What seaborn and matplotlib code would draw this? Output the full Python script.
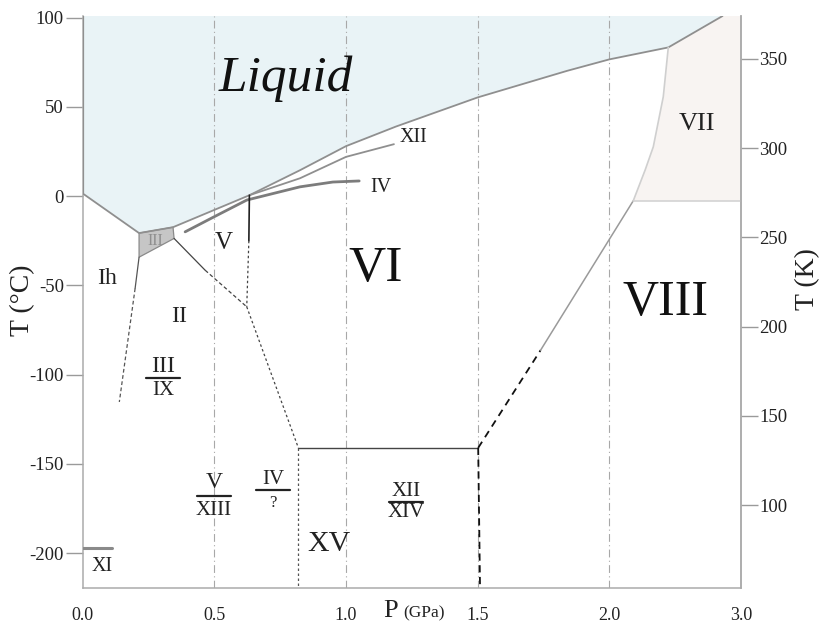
import numpy as np
import pandas as pd
import matplotlib
matplotlib.use("Agg")
import matplotlib.pyplot as plt
import seaborn as sns

# ---------------- data (P in GPa, T in °C) ----------------
melt_P = [0.0, 0.214, 0.343, 0.633, 0.825, 1.0, 1.19, 1.5, 1.84, 2.0, 2.224, 2.43]
melt_T = [1.5, -20.7, -17.4, 0.5, 14.5, 28.0, 39.0, 55.3, 70.2, 76.6, 83.3, 100.9]

xii_P = [0.633, 0.825, 1.0, 1.182]
xii_T = [0.5, 10.0, 22.0, 29.1]

iv_P = [0.389, 0.5, 0.623, 0.825, 0.95, 1.05]
iv_T = [-20.0, -11.5, -2.2, 5.2, 7.9, 8.5]

iii_P = [0.214, 0.343, 0.347, 0.214]
iii_T = [-20.7, -17.4, -23.7, -34.2]

ih_ii_solid_P = [0.214, 0.199]
ih_ii_solid_T = [-34.2, -51.7]
ih_ii_dash_P = [0.199, 0.139]
ih_ii_dash_T = [-51.7, -115.3]

ii_v_solid_P = [0.347, 0.465]
ii_v_solid_T = [-23.7, -41.5]
ii_v_dash_P = [0.465, 0.623]
ii_v_dash_T = [-41.5, -62.0]

v_vi_solid_P = [0.633, 0.631]
v_vi_solid_T = [0.5, -25.0]
v_vi_dash_P = [0.631, 0.623]
v_vi_dash_T = [-25.0, -62.0]

ii_vi_P = [0.623, 0.819]
ii_vi_T = [-62.0, -141.0]

xv_top_P = [0.819, 1.502]
xv_top_T = [-141.0, -141.0]

xv_left_P = [0.819, 0.819]
xv_left_T = [-141.0, -219.5]

xv_right_P = [1.502, 1.509]
xv_right_T = [-141.0, -219.5]

vi_viii_dash_P = [1.502, 1.739]
vi_viii_dash_T = [-141.0, -86.3]
vi_viii_solid_P = [1.739, 2.091]
vi_viii_solid_T = [-86.3, -2.6]

vii_viii_P = [2.091, 2.5]
vii_viii_T = [-2.6, -2.6]

vii_vi_P = [2.091, 2.136, 2.167, 2.205, 2.224]
vii_vi_T = [-2.6, 14.6, 27.6, 55.7, 83.3]

xi_P = [0.0, 0.11]
xi_T = [-197.0, -197.0]

grid_P = [0.5, 1.0, 1.5, 2.0]
xtick_vals = [0.0, 0.5, 1.0, 1.5, 2.0, 2.5]
xtick_labels = ["0.0", "0.5", "1.0", "1.5", "2.0", "3.0"]
ytick_vals = [100, 50, 0, -50, -100, -150, -200]
ytick_labels = ["100", "50", "0", "-50", "-100", "-150", "-200"]
ktick_vals = [100, 150, 200, 250, 300, 350]

# simple labels: text, P, T, size, style, color
labels = [
    ("Liquid", 0.77, 66, 37, "italic", "#111111"),
    ("VI", 1.111, -40.4, 37, "normal", "#111111"),
    ("VIII", 2.215, -60, 36, "normal", "#111111"),
    ("VII", 2.333, 40.4, 19, "normal", "#222222"),
    ("XII", 1.255, 33, 14.5, "normal", "#222222"),
    ("IV", 1.131, 5, 14.5, "normal", "#222222"),
    ("V", 0.537, -26.4, 18, "normal", "#222222"),
    ("III", 0.275, -25.3, 11.5, "normal", "#8f8f8f"),
    ("Ih", 0.092, -46, 17, "normal", "#222222"),
    ("II", 0.366, -67.5, 17, "normal", "#222222"),
    ("XV", 0.934, -195, 21.5, "normal", "#222222"),
    ("XI", 0.075, -207.4, 14.5, "normal", "#222222"),
]

# fraction labels: numerator, denominator, P_center, T_num, T_den, T_bar, num size, den size
fractions = [
    ("III", "IX", 0.305, -95.3, -108.7, -102.0, 17, 15),
    ("V", "XIII", 0.499, -160.3, -176.0, -168.0, 17, 15),
    ("IV", "?", 0.722, -159.0, -171.8, -164.4, 15, 12),
    ("XII", "XIV", 1.228, -165.6, -177.0, -171.3, 15, 15),
]
bar_half = 0.064

# ---------------- plotting ----------------
sns.set_theme(style="white")
plt.rcParams['font.family'] = ['Liberation Serif', 'DejaVu Serif']

fig = plt.figure(figsize=(8.19, 6.23), dpi=100)
ax = fig.add_axes([0.101, 0.0562, 0.8037, 0.9181])

XMIN, XMAX = 0.0, 2.5
YMIN, YMAX = -219.5, 100.9

# liquid fill
liq_P = melt_P + [0.0]
liq_T = melt_T + [YMAX]
ax.fill(liq_P, liq_T, color="#e9f3f6", lw=0, zorder=0)

# VII fill
vii_fill_P = vii_vi_P + [2.43, 2.5, 2.5]
vii_fill_T = vii_vi_T + [YMAX, YMAX, -2.6]
ax.fill(vii_fill_P, vii_fill_T, color="#f8f4f2", lw=0, zorder=0)

# III fill
ax.fill(iii_P, iii_T, color="#c6c6c6", ec="#8a8a8a", lw=0.9, zorder=2)

# grid lines
for g in grid_P:
    ax.axvline(g, color="#a8a8a8", lw=0.8, ls=(0, (7, 3, 1, 3)), zorder=1)

def seg(P, T, color, lw, ls="-", z=3):
    df = pd.DataFrame({"P": P, "T": T})
    sns.lineplot(data=df, x="P", y="T", ax=ax, sort=False, estimator=None,
                 color=color, lw=lw, linestyle=ls, zorder=z)

seg(melt_P, melt_T, "#8f8f8f", 1.3)
seg([0.0, 0.0], [melt_T[0], YMAX], "#8f8f8f", 1.6)
seg(xii_P, xii_T, "#8f8f8f", 1.3)
seg(iv_P, iv_T, "#7c7c7c", 2.0)
seg(ih_ii_solid_P, ih_ii_solid_T, "#555555", 0.9)
seg(ih_ii_dash_P, ih_ii_dash_T, "#555555", 0.9, (0, (3, 2)))
seg(ii_v_solid_P, ii_v_solid_T, "#444444", 0.9)
seg(ii_v_dash_P, ii_v_dash_T, "#444444", 0.9, (0, (3, 2)))
seg(v_vi_solid_P, v_vi_solid_T, "#222222", 1.2)
seg(v_vi_dash_P, v_vi_dash_T, "#444444", 0.9, (0, (2, 2)))
seg(ii_vi_P, ii_vi_T, "#444444", 0.9, (0, (2, 2)))
seg(xv_top_P, xv_top_T, "#444444", 1.0)
seg(xv_left_P, xv_left_T, "#555555", 0.9, (0, (2, 2)))
seg(xv_right_P, xv_right_T, "#111111", 1.3, (0, (4, 2.5)))
seg(vi_viii_dash_P, vi_viii_dash_T, "#111111", 1.3, (0, (4, 3)))
seg(vi_viii_solid_P, vi_viii_solid_T, "#9a9a9a", 1.1)
seg(vii_viii_P, vii_viii_T, "#d0d0d0", 1.1)
seg(vii_vi_P, vii_vi_T, "#cfcfcf", 1.2)
seg(xi_P, xi_T, "#8a8a8a", 2.2)

for txt, p, t, size, style, col in labels:
    ax.text(p, t, txt, ha="center", va="center", fontsize=size, style=style,
            color=col, zorder=5)

for num, den, p, tn, td, tb, sn, sd in fractions:
    ax.text(p, tn, num, ha="center", va="center", fontsize=sn, color="#222222", zorder=5)
    ax.text(p, td, den, ha="center", va="center", fontsize=sd, color="#222222", zorder=5)
    seg([p - bar_half, p + bar_half], [tb, tb], "#222222", 1.6)

ax.set_xlim(XMIN, XMAX)
ax.set_ylim(YMIN, YMAX)
ax.set_xlabel("")
ax.set_ylabel("T (°C)", fontsize=20, color="#222222")
ax.yaxis.set_label_coords(-0.073, 0.503)

ax.set_xticks(xtick_vals)
ax.set_xticklabels(xtick_labels, fontsize=13, color="#222222")
ax.set_yticks(ytick_vals)
ax.set_yticklabels(ytick_labels, fontsize=13.5, color="#222222")
ax.tick_params(axis="x", length=0, pad=14)
ax.tick_params(axis="y", direction="out", length=12.5, width=1, color="#9a9a9a", pad=1, left=True)

for s in ["left", "bottom", "right"]:
    ax.spines[s].set_color("#ababab")
    ax.spines[s].set_linewidth(1.1)
ax.spines["top"].set_visible(False)

ax2 = ax.twinx()
ax2.set_ylim(YMIN + 273.15, YMAX + 273.15)
ax2.set_yticks(ktick_vals)
ax2.set_yticklabels([str(v) for v in ktick_vals], fontsize=13.5, color="#222222")
ax2.tick_params(axis="y", direction="out", length=12, width=1, color="#9a9a9a", pad=1, right=True)
ax2.set_ylabel("T (K)", fontsize=20, color="#222222", rotation=90)
ax2.yaxis.set_label_coords(1.082, 0.54)
for s in ["left", "bottom", "top"]:
    ax2.spines[s].set_visible(False)
ax2.spines["right"].set_color("#ababab")
ax2.spines["right"].set_linewidth(1.1)
ax2.grid(False)
ax.grid(False)

ax.text(0.467, -0.0507, "P", transform=ax.transAxes, ha="center", va="baseline",
        fontsize=19, color="#222222", clip_on=False)
ax.text(0.487, -0.0507, "(GPa)", transform=ax.transAxes, ha="left", va="baseline",
        fontsize=12.5, color="#222222", clip_on=False)

fig.savefig("out.png", dpi=100)
